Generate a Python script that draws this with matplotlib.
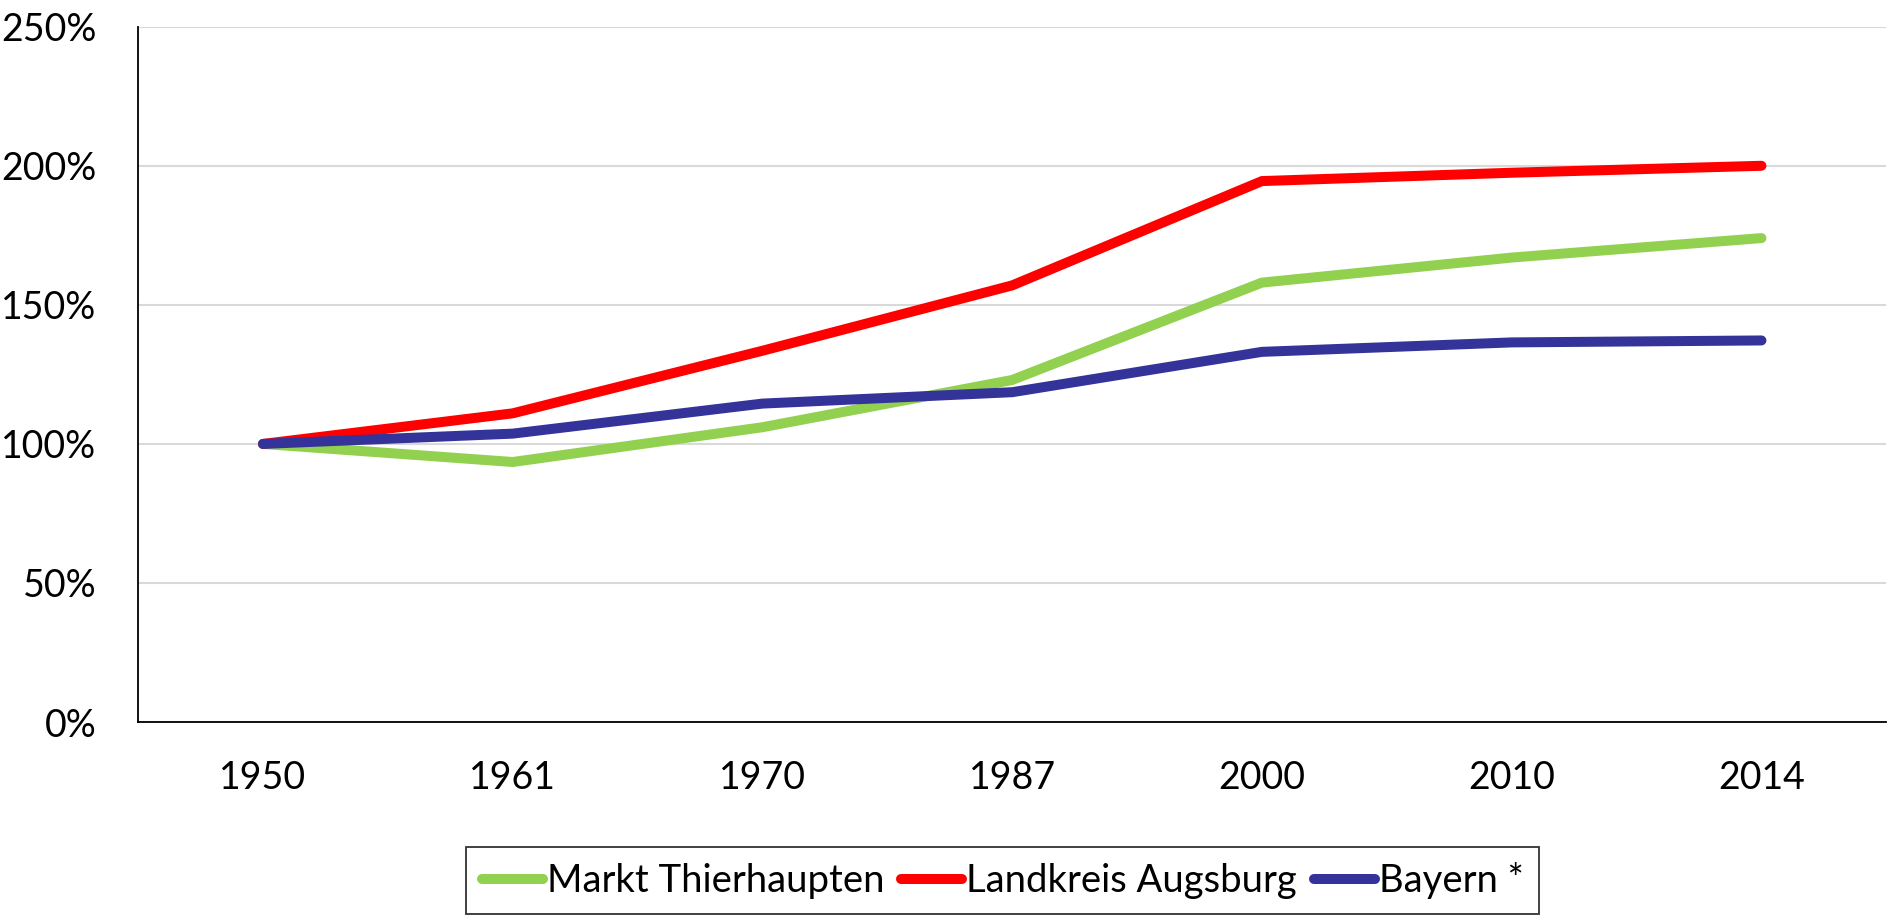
import matplotlib
matplotlib.use("Agg")
import matplotlib.pyplot as plt
from matplotlib.ticker import FuncFormatter

plt.rcParams['font.family'] = ['Lato', 'DejaVu Sans']

years = ["1950", "1961", "1970", "1987", "2000", "2010", "2014"]
thierhaupten = [100, 93.5, 106, 123, 158, 167, 174]
landkreis = [100, 111, 133.5, 157, 194.5, 197.5, 200]
bayern = [100, 103.7, 114.5, 118.6, 133.1, 136.5, 137.2]

series = [
    ("Markt Thierhaupten", thierhaupten, "#92d050"),
    ("Landkreis Augsburg", landkreis, "#ff0000"),
    ("Bayern *", bayern, "#333399"),
]

fig = plt.figure(figsize=(18.92, 9.21), dpi=100)
ax = fig.add_axes([0.073, 0.216, 0.924, 0.755])

x = list(range(len(years)))
for label, vals, color in series:
    ax.plot(x, vals, color=color, lw=7.2, solid_capstyle='round',
            solid_joinstyle='miter', label=label)

ax.set_xlim(-0.5, len(years) - 0.5)
ax.set_ylim(0, 250)
ax.set_yticks(range(0, 251, 50))
ax.yaxis.set_major_formatter(FuncFormatter(lambda v, p: f"{int(v)}%"))
ax.set_xticks(x)
ax.set_xticklabels(years)

ax.grid(axis='y', color='#d9d9d9', lw=1.5)
ax.set_axisbelow(True)
for s in ['top', 'right']:
    ax.spines[s].set_visible(False)
for s in ['left', 'bottom']:
    ax.spines[s].set_linewidth(1.3)
    ax.spines[s].set_color('black')

ax.tick_params(axis='both', length=0, labelsize=27)
ax.tick_params(axis='y', pad=30)
ax.tick_params(axis='x', pad=27)

leg = fig.legend(loc='lower center', bbox_to_anchor=(0.530, 0.003), ncol=3,
                 fontsize=27.5, frameon=True, fancybox=False,
                 handlelength=1.6, handletextpad=0.1, columnspacing=0.45,
                 borderpad=0.4, borderaxespad=0.1)
leg.get_frame().set_edgecolor('black')
leg.get_frame().set_linewidth(1.3)

fig.savefig("out.png", dpi=100)
